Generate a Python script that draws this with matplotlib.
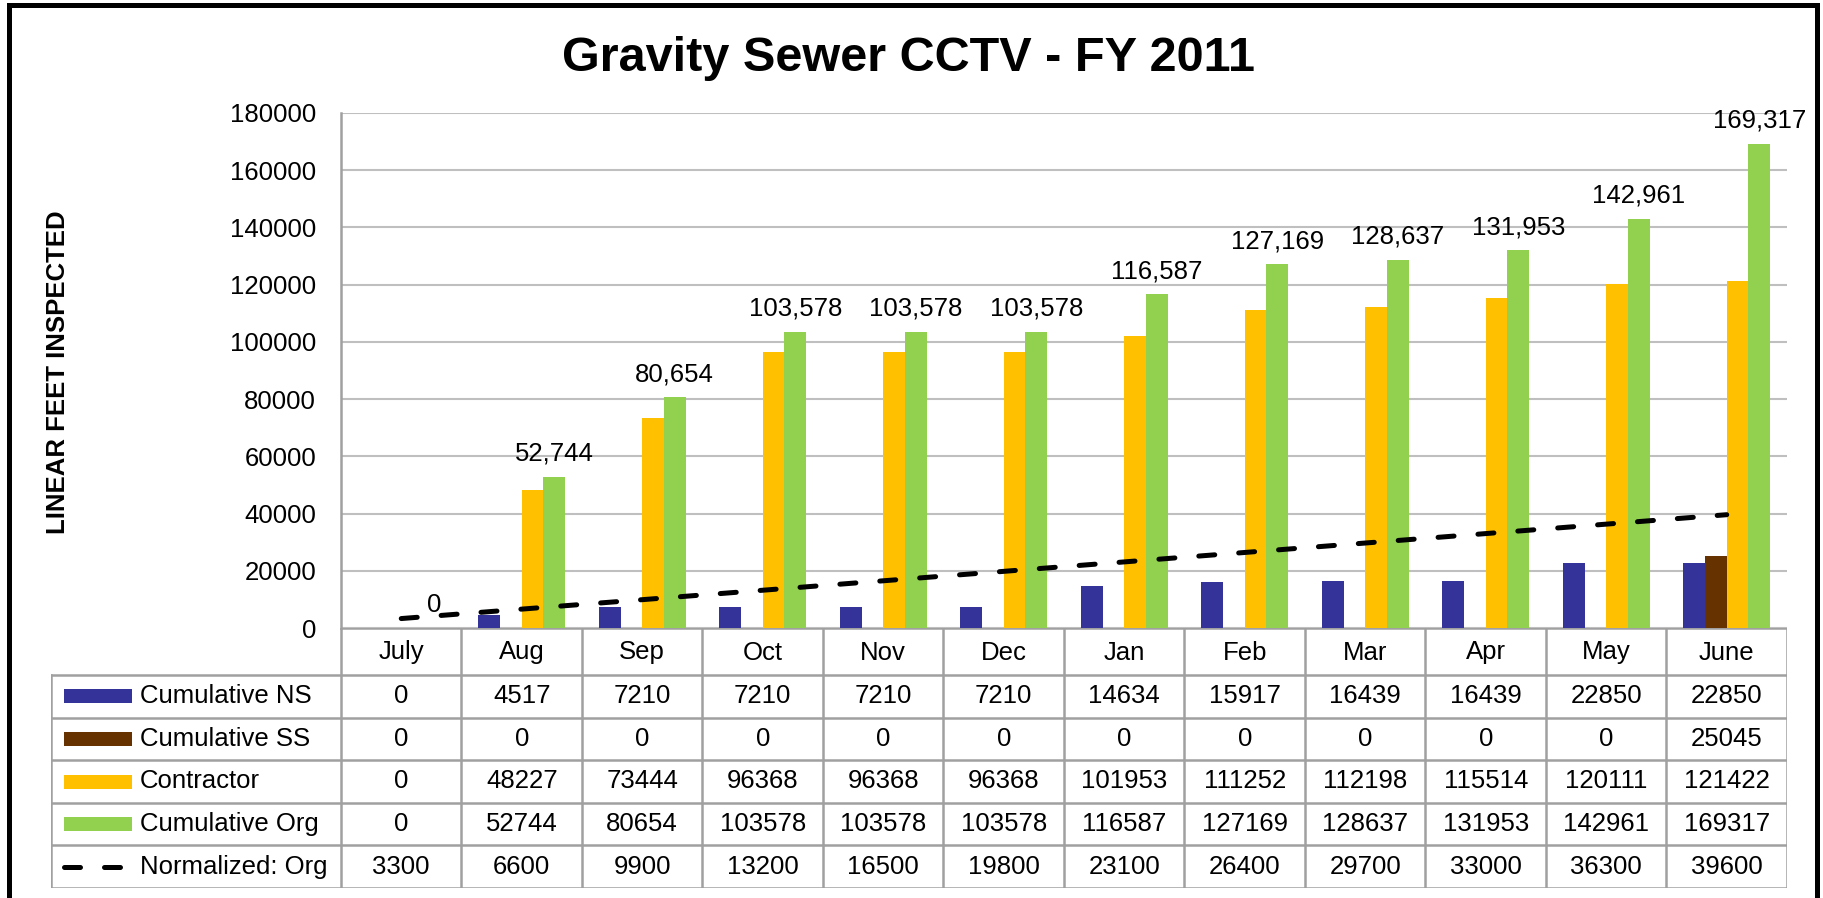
import matplotlib
matplotlib.use("Agg")
import matplotlib.pyplot as plt
from matplotlib.patches import Rectangle
from matplotlib.lines import Line2D

plt.rcParams['font.family'] = ['Liberation Sans', 'DejaVu Sans']

# ---------------- data ----------------
months = ['July', 'Aug', 'Sep', 'Oct', 'Nov', 'Dec',
          'Jan', 'Feb', 'Mar', 'Apr', 'May', 'June']
cum_ns = [0, 4517, 7210, 7210, 7210, 7210, 14634, 15917, 16439, 16439, 22850, 22850]
cum_ss = [0, 0, 0, 0, 0, 0, 0, 0, 0, 0, 0, 25045]
contractor = [0, 48227, 73444, 96368, 96368, 96368, 101953, 111252, 112198, 115514, 120111, 121422]
cum_org = [0, 52744, 80654, 103578, 103578, 103578, 116587, 127169, 128637, 131953, 142961, 169317]
normalized = [3300, 6600, 9900, 13200, 16500, 19800, 23100, 26400, 29700, 33000, 36300, 39600]

series_names = ['Cumulative NS', 'Cumulative SS', 'Contractor', 'Cumulative Org']
series_vals = [cum_ns, cum_ss, contractor, cum_org]
series_cols = ['#333399', '#663300', '#FFC000', '#92D050']

# ---------------- layout (pixels) ----------------
W, H = 1824, 898
PL, PR, PT, PB = 341, 1787, 113, 628      # plot area
TL, TB = 51, 888                         # table left / bottom
HDR = 47                                 # month header row height
ROW = (TB - PB - HDR) / 5.0
FS = 18.5
GRID = '#BFBFBF'
TLINE = '#A0A0A0'

fig = plt.figure(figsize=(W / 100, H / 100), dpi=100)

ax = fig.add_axes([PL / W, (H - PB) / H, (PR - PL) / W, (PB - PT) / H])
x = list(range(len(months)))
bw = 0.18
offs = [-1.5 * bw, -0.5 * bw, 0.5 * bw, 1.5 * bw]
for vals, col, off in zip(series_vals, series_cols, offs):
    ax.bar([i + off for i in x], vals, width=bw, color=col, zorder=2)

dash = dict(color='black', lw=3.6, dashes=(3.2, 4.8), dash_capstyle='round')
ax.plot(x, normalized, zorder=3, **dash)

for i, v in enumerate(cum_org):
    ax.annotate(f"{v:,}", (i + offs[3], v), xytext=(0, 8), textcoords='offset points',
                ha='center', va='bottom', fontsize=FS, zorder=4)

ax.set_xlim(-0.5, 11.5)
ax.set_ylim(0, 180000)
ax.set_yticks(range(0, 180001, 20000))
ax.set_yticklabels([str(t) for t in range(0, 180001, 20000)], fontsize=FS)
ax.tick_params(axis='y', length=0, pad=18)
ax.set_xticks([])
ax.grid(axis='y', color=GRID, lw=1.5, zorder=0)
ax.set_axisbelow(True)
for s in ['top', 'right', 'bottom']:
    ax.spines[s].set_visible(False)
ax.spines['left'].set_color(TLINE)
ax.spines['left'].set_linewidth(1.8)

fig.text(58 / W, 1 - 372 / H, 'LINEAR FEET INSPECTED', rotation=90,
         ha='center', va='center', fontsize=FS, fontweight='bold')
fig.text(909 / W, 1 - 71 / H, 'Gravity Sewer CCTV - FY 2011', ha='center',
         va='baseline', fontsize=35, fontweight='bold')

# ---------------- data table ----------------
unit = (PR - PL) / 12.0
xl = -0.5 - (PL - TL) / unit
tab = fig.add_axes([TL / W, (H - TB) / H, (PR - TL) / W, (TB - PB) / H])
tab.set_xlim(xl, 11.5)
tab.set_ylim(TB - PB, 0)
tab.axis('off')


def px(p):
    return xl + (p - TL) / unit


lk = dict(color=TLINE, lw=1.8, solid_capstyle='projecting')
tab.plot([-0.5, 11.5], [0, 0], **lk)
for k in range(13):
    tab.plot([k - 0.5, k - 0.5], [0, TB - PB], **lk)
tab.plot([xl, xl], [HDR, TB - PB], **lk)
for r in range(6):
    y = HDR + r * ROW
    tab.plot([xl, 11.5], [y, y], **lk)

for i, m in enumerate(months):
    tab.text(i, HDR / 2 + 1, m, ha='center', va='center', fontsize=FS)

rows = series_vals + [normalized]
names = series_names + ['Normalized: Org']
for r, (name, vals) in enumerate(zip(names, rows)):
    yc = HDR + (r + 0.5) * ROW
    if r < 4:
        tab.add_patch(Rectangle((px(64), yc - 7), px(132) - px(64), 14,
                                color=series_cols[r], lw=0))
    else:
        tab.add_line(Line2D([px(64), px(125)], [yc, yc], **dash))
    tab.text(px(140), yc, name, ha='left', va='center', fontsize=FS)
    for i, v in enumerate(vals):
        tab.text(i, yc, str(v), ha='center', va='center', fontsize=FS)

# outer black frame (open at the bottom)
fig.patches.append(Rectangle((9 / W, -0.05), (1817 - 9) / W, 1.05 - 5 / H,
                             transform=fig.transFigure, fill=False,
                             edgecolor='black', lw=3.6))

fig.savefig('out.png', dpi=100)
